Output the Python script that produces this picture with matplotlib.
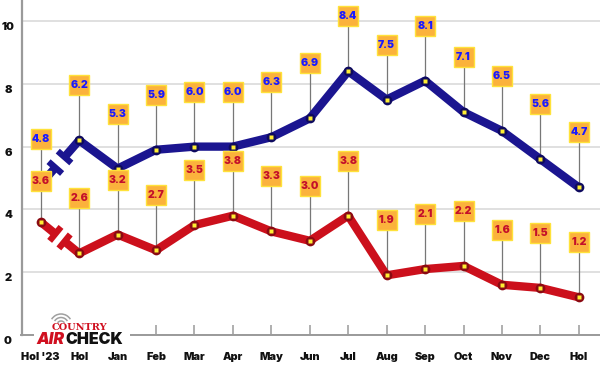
import numpy as np
import matplotlib
matplotlib.use("Agg")
import matplotlib.pyplot as plt
from matplotlib.patches import Arc, Rectangle
from matplotlib.transforms import offset_copy

categories = ["Hol '23", "Hol", "Jan", "Feb", "Mar", "Apr", "May", "Jun", "Jul",
              "Aug", "Sep", "Oct", "Nov", "Dec", "Hol"]
blue_values = [4.8, 6.2, 5.3, 5.9, 6.0, 6.0, 6.3, 6.9, 8.4, 7.5, 8.1, 7.1, 6.5, 5.6, 4.7]
red_values = [3.6, 2.6, 3.2, 2.7, 3.5, 3.8, 3.3, 3.0, 3.8, 1.9, 2.1, 2.2, 1.6, 1.5, 1.2]
y_ticks = [0, 2, 4, 6, 8, 10]

HEAVY = ["Inter", "DejaVu Sans"]
HW = 900

BLUE = "#1b1590"
BLUE_DARK = "#0e0a5e"
BLUE_TXT = "#1a1aff"
RED = "#cc101c"
RED_DARK = "#8a0a12"
RED_TXT = "#c4102a"
BOX = "#fbb23c"
BOX_EDGE = "#ffe23a"

fig = plt.figure(figsize=(6, 3.7), dpi=100)
ax = fig.add_axes([21.5/600, 35/370, 578.5/600, 335/370])
ax.set_xlim(-0.5, 14.55)
ax.set_ylim(0, 10.67)

for s in ["top", "right"]:
    ax.spines[s].set_visible(False)
ax.spines["left"].set_color("#9a9a9a")
ax.spines["left"].set_linewidth(1.6)
ax.spines["bottom"].set_color("#9a9a9a")
ax.spines["bottom"].set_linewidth(1.4)
ax.set_yticks(y_ticks)
ax.set_yticklabels([])
ax.tick_params(axis="y", length=0)
for v in y_ticks:
    ax.text(0, v, str(v), fontsize=8, family=HEAVY, fontweight=HW,
            ha="center", va="center", color="#111111",
            transform=offset_copy(ax.get_yaxis_transform(), fig=fig, x=-13.5, y=-6, units="dots"))
ax.set_xticks(range(len(categories)))
ax.set_xticklabels(categories, fontsize=7.8, family=HEAVY, fontweight=HW, color="#111111")
ax.tick_params(axis="x", direction="in", length=7.5, color="#9a9a9a", width=1.1, pad=12)
ax.grid(axis="y", color="#dadada", linewidth=1.2)
ax.set_axisbelow(True)

x = np.arange(len(categories))
fig.canvas.draw()
T = ax.transData
Ti = T.inverted()


def draw_series(vals, col, dark, txtcol, first_off, off):
    p = T.transform(np.column_stack([x, vals]))
    lw = 6
    p0, p1 = p[0], p[1]
    d = p1 - p0
    L = np.hypot(*d)
    u = d / L
    n = np.array([-u[1], u[0]])
    a = p0 + u * (L * 0.38)
    b = p0 + u * (L * 0.62)
    for q0, q1 in [(p0, a), (b, p1)]:
        dd = Ti.transform(np.vstack([q0, q1]))
        ax.plot(dd[:, 0], dd[:, 1], color=col, lw=lw, solid_capstyle="butt", zorder=3)
    for c in [a, b]:
        cc = Ti.transform(np.vstack([c - n * 9, c + n * 9]))
        ax.plot(cc[:, 0], cc[:, 1], color=col, lw=4.5, solid_capstyle="butt", zorder=3)
    ax.plot(x[1:], vals[1:], color=col, lw=lw, solid_joinstyle="round",
            solid_capstyle="round", zorder=3)
    ax.plot(x, vals, "o", color=dark, ms=7, zorder=4, mec="none")
    ax.plot(x, vals, "s", color="#ffee33", ms=2.6, zorder=5, mec="none")
    for i, v in enumerate(vals):
        o = first_off if i == 0 else off
        ax.plot([i, i], [v, v + o], color="#777777", lw=0.9, zorder=2)
        ax.plot(i, v + o, "s", ms=14.5, mfc=BOX, mec=BOX_EDGE, mew=1, zorder=6)
        ax.text(i, v + o, f"{v:.1f}", ha="center", va="center", fontsize=7.5,
                family=HEAVY, fontweight=HW, color=txtcol, zorder=7)


draw_series(np.array(blue_values), BLUE, BLUE_DARK, BLUE_TXT, 1.45, 1.75)
draw_series(np.array(red_values), RED, RED_DARK, RED_TXT, 1.3, 1.75)

# logo
fig.add_artist(Rectangle((34/600, 1 - 347/370), 96/600, 27/370, transform=fig.transFigure,
                         fc="white", ec="none", zorder=9))
fig.text(79/600, 1 - 328/370, "COUNTRY", ha="center", va="center", fontsize=7,
         family="DejaVu Serif", fontweight="bold", color="#d01020", zorder=10)
fig.text(36/600, 1 - 340/370, "AIR", ha="left", va="center", fontsize=11.5,
         family=HEAVY, fontweight=HW, style="italic", color="#d01020", zorder=10)
fig.text(65/600, 1 - 340/370, "CHECK", ha="left", va="center", fontsize=11.5,
         family=HEAVY, fontweight=HW, color="#111111", zorder=10)
for r in [4, 7.5, 11]:
    arc = Arc((61/600, 1 - 325/370), r/600 * 2, r/370 * 2, theta1=45, theta2=135,
              transform=fig.transFigure, color="#a0a0a0", lw=1.1, zorder=10)
    fig.add_artist(arc)

fig.savefig("out.png", dpi=100)
